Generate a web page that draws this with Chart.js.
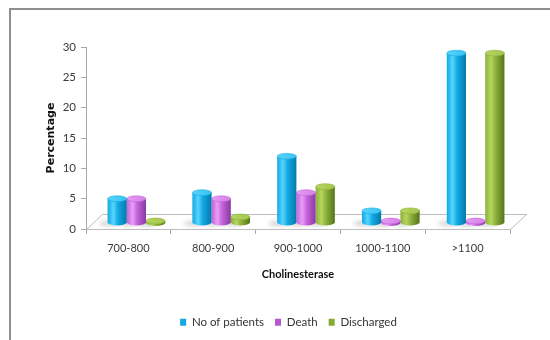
<!DOCTYPE html>
<html>
<head>
<meta charset="utf-8">
<script src="https://cdn.jsdelivr.net/npm/chart.js@4/dist/chart.umd.min.js"></script>
<style>
  html, body { margin: 0; padding: 0; background: #fff; }
  #c { display: block; }
</style>
</head>
<body>
<canvas id="c" width="550" height="340"></canvas>
<script>
// Cholinesterase ranges and the share of cases in each range
const categories = ['700-800', '800-900', '900-1000', '1000-1100', '>1100'];
const patients   = [4, 5, 11, 2, 28];
const deaths     = [4, 4, 5, 0, 0];
const discharged = [0, 1, 6, 2, 28];
const yTicks     = [0, 5, 10, 15, 20, 25, 30];
const seriesNames = ['No of patients', 'Death', 'Discharged'];

// cylinder shading per series
const PALETTE = [
  { base: '#10a9e3', dark: '#0877ab', light: '#5ad4fd', top: '#37c2f0', key: '#14a9e0' },
  { base: '#c462d9', dark: '#8a3aa2', light: '#e79ef5', top: '#d47fe5', key: '#b957cf' },
  { base: '#8bb03a', dark: '#56731e', light: '#b6d65f', top: '#a3c64d', key: '#86ab34' }
];

// 3D floor depth and the shift of the columns to the middle of that depth
const FLOOR = { dx: 16, dy: -15 };
const SHIFT = { dx: 8, dy: -6 };
const PAD = { left: 41, right: 40, top: 47, bottom: 0 };
const PLOT_BOTTOM = 229;

const FONT = 'Lato, "Open Sans", sans-serif';

function drawCylinder(ctx, cx, top, bottom, w, col) {
  const rx = w / 2;
  const ry = Math.max(2.4, w * 0.15);
  const l = cx - rx, r = cx + rx;
  if (bottom - top < 2) top = bottom - 2;

  const g = ctx.createLinearGradient(l, 0, r, 0);
  g.addColorStop(0, col.base);
  g.addColorStop(0.3, col.light);
  g.addColorStop(0.55, col.base);
  g.addColorStop(1, col.dark);

  ctx.beginPath();
  ctx.moveTo(l, top);
  ctx.lineTo(l, bottom);
  ctx.ellipse(cx, bottom, rx, ry, 0, Math.PI, 0, true);
  ctx.lineTo(r, top);
  ctx.closePath();
  ctx.fillStyle = g;
  ctx.fill();

  const tg = ctx.createLinearGradient(l, top - ry, r, top + ry);
  tg.addColorStop(0, col.light);
  tg.addColorStop(1, col.top);
  ctx.beginPath();
  ctx.ellipse(cx, top, rx, ry, 0, 0, Math.PI * 2);
  ctx.fillStyle = tg;
  ctx.fill();
  ctx.strokeStyle = col.base;
  ctx.lineWidth = 0.6;
  ctx.stroke();
}

const scene3d = {
  id: 'scene3d',
  beforeDraw(chart) {
    const { ctx } = chart;
    ctx.save();
    ctx.fillStyle = '#fff';
    ctx.fillRect(0, 0, chart.width, chart.height);
    ctx.strokeStyle = '#8f8f8f';
    ctx.lineWidth = 2;
    ctx.strokeRect(10, 9, chart.width + 20, chart.height + 20);
    ctx.restore();
  },
  afterLayout(chart) {
    const L = chart.legend;
    if (!L) return;
    const sx = 13, sy = -2;
    L.left += sx; L.right += sx;
    L.top += sy; L.bottom += sy;
  },
  beforeDatasetsDraw(chart) {
    const { ctx, chartArea: a } = chart;
    const x0 = a.left + 0.5, x1 = a.right + 0.5, y0 = a.bottom + 0.5;
    ctx.save();
    ctx.beginPath();
    ctx.moveTo(x0, y0);
    ctx.lineTo(x1, y0);
    ctx.lineTo(x1 + FLOOR.dx, y0 + FLOOR.dy);
    ctx.lineTo(x0 + FLOOR.dx, y0 + FLOOR.dy);
    ctx.closePath();
    ctx.fillStyle = '#ffffff';
    ctx.fill();
    ctx.strokeStyle = '#bdbdbd';
    ctx.lineWidth = 1;
    ctx.stroke();

    // soft shadows cast on the floor
    ctx.filter = 'blur(2px)';
    chart.data.datasets.forEach((ds, i) => {
      const meta = chart.getDatasetMeta(i);
      meta.data.forEach(el => {
        const p = el.getProps(['x', 'base', 'width'], true);
        ctx.beginPath();
        ctx.ellipse(p.x + SHIFT.dx - p.width * 0.45, p.base + SHIFT.dy + 1,
                    p.width * 0.5, 2.6, 0, 0, Math.PI * 2);
        ctx.fillStyle = 'rgba(0,0,0,0.18)';
        ctx.fill();
      });
    });
    ctx.filter = 'none';
    ctx.restore();
  },
  beforeDatasetDraw(chart, args) {
    const { ctx } = chart;
    const col = PALETTE[args.index];
    ctx.save();
    args.meta.data.forEach(el => {
      const p = el.getProps(['x', 'y', 'base', 'width'], true);
      drawCylinder(ctx, p.x + SHIFT.dx, p.y + SHIFT.dy, p.base + SHIFT.dy, p.width, col);
    });
    ctx.restore();
    return false;
  }
};

const seriesValues = [patients, deaths, discharged];

new Chart(document.getElementById('c'), {
  type: 'bar',
  data: {
    labels: categories,
    datasets: seriesNames.map((name, i) => ({
      label: name,
      data: seriesValues[i],
      backgroundColor: PALETTE[i].key,
      borderWidth: 0,
      categoryPercentage: 0.68,
      barPercentage: 1.0
    }))
  },
  options: {
    responsive: false,
    animation: false,
    devicePixelRatio: 1,
    layout: { padding: PAD },
    plugins: {
      tooltip: { enabled: false },
      legend: {
        position: 'bottom',
        labels: {
          boxWidth: 6,
          boxHeight: 7,
          padding: 11,
          color: '#333',
          font: { family: FONT, size: 11.5 }
        }
      }
    },
    scales: {
      x: {
        grid: {
          display: true,
          drawOnChartArea: false,
          drawTicks: true,
          tickLength: 5,
          color: '#a8a8a8',
          offset: true
        },
        border: { display: true, color: '#bdbdbd' },
        ticks: {
          color: '#3a3a3a',
          padding: 8,
          font: { family: FONT, size: 11 },
          maxRotation: 0
        },
        title: {
          display: true,
          text: 'Cholinesterase',
          color: '#111',
          padding: { top: 26, bottom: 26 },
          font: { family: FONT, size: 11, weight: 'bold' }
        },
        afterFit(s) {
          s.height = s.chart.height - PAD.bottom - s.chart.legend.height - PLOT_BOTTOM;
        }
      },
      y: {
        min: 0,
        max: 30,
        afterBuildTicks(s) { s.ticks = yTicks.map(v => ({ value: v })); },
        grid: {
          display: true,
          drawOnChartArea: false,
          drawTicks: true,
          tickLength: 5,
          color: '#a8a8a8'
        },
        border: { display: true, color: '#a8a8a8' },
        ticks: {
          color: '#3a3a3a',
          padding: 5,
          font: { family: FONT, size: 11.5 }
        },
        title: {
          display: true,
          text: 'Percentage',
          color: '#111',
          padding: { top: 4, bottom: 4 },
          font: { family: '"DejaVu Sans", sans-serif', size: 11, weight: 'bold' }
        },
        afterFit(s) { s.width = 86 - PAD.left; }
      }
    }
  },
  plugins: [scene3d]
});
</script>
</body>
</html>
